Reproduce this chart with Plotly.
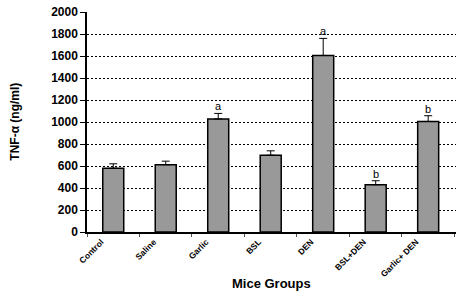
import plotly.graph_objects as go

groups = ["Control", "Saline", "Garlic", "BSL", "DEN", "BSL+DEN", "Garlic+ DEN"]
tnf_values = [580, 612, 1028, 698, 1605, 430, 1005]
tnf_errors = [40, 32, 50, 40, 155, 36, 52]
sig_letters = ["", "", "a", "", "a", "b", "b"]
y_ticks = [0, 200, 400, 600, 800, 1000, 1200, 1400, 1600, 1800, 2000]

FONT = "Liberation Sans, Arial, sans-serif"

fig = go.Figure()
fig.add_trace(go.Bar(
    x=groups,
    y=tnf_values,
    width=0.4,
    marker=dict(color="#999999", line=dict(color="black", width=1.5)),
    error_y=dict(type="data", symmetric=False, array=tnf_errors,
                 arrayminus=[0] * len(tnf_errors),
                 color="black", thickness=1, width=4),
    showlegend=False,
))

for g, v, e, s in zip(groups, tnf_values, tnf_errors, sig_letters):
    if s:
        fig.add_annotation(x=g, y=v + e, text=s, showarrow=False,
                           yanchor="bottom", yshift=-1,
                           font=dict(family=FONT, size=11, color="#000000"))

fig.add_annotation(xref="paper", yref="paper", x=-0.196, y=0.5,
                   text="TNF-α (ng/ml)", textangle=-90, showarrow=False,
                   xanchor="center", yanchor="middle",
                   font=dict(family=FONT, size=12, color="black", weight="bold"))
fig.add_annotation(xref="paper", yref="paper", x=0.5, y=-0.232,
                   text="Mice Groups", showarrow=False,
                   xanchor="center", yanchor="middle",
                   font=dict(family=FONT, size=13, color="black", weight="bold"))

fig.update_layout(
    width=456, height=295,
    margin=dict(l=87, r=0, t=12, b=63),
    paper_bgcolor="white", plot_bgcolor="white",
    bargap=0.6,
)
fig.update_xaxes(
    type="category", range=[-0.5, 6.53], automargin=False,
    showline=True, linecolor="black", linewidth=1.5,
    ticks="outside", tickson="boundaries", ticklen=3, tickcolor="#555",
    tickangle=-45, ticklabelshift=-12, ticklabelstandoff=0,
    tickfont=dict(family=FONT, size=8.5, color="black", weight="bold"),
    showgrid=False,
)
fig.update_yaxes(
    range=[0, 2000], tickvals=y_ticks, automargin=False,
    showline=True, linecolor="black", linewidth=1.5,
    ticks="outside", ticklen=5, tickcolor="black",
    tickfont=dict(family=FONT, size=12, color="black", weight="bold"),
    showgrid=True, gridcolor="black", griddash="2px,2px", gridwidth=1,
    zeroline=False,
)

fig.write_html("out.html",
               config={"displayModeBar": False},
               post_script="document.body.style.margin='0';document.body.style.overflow='hidden';")
